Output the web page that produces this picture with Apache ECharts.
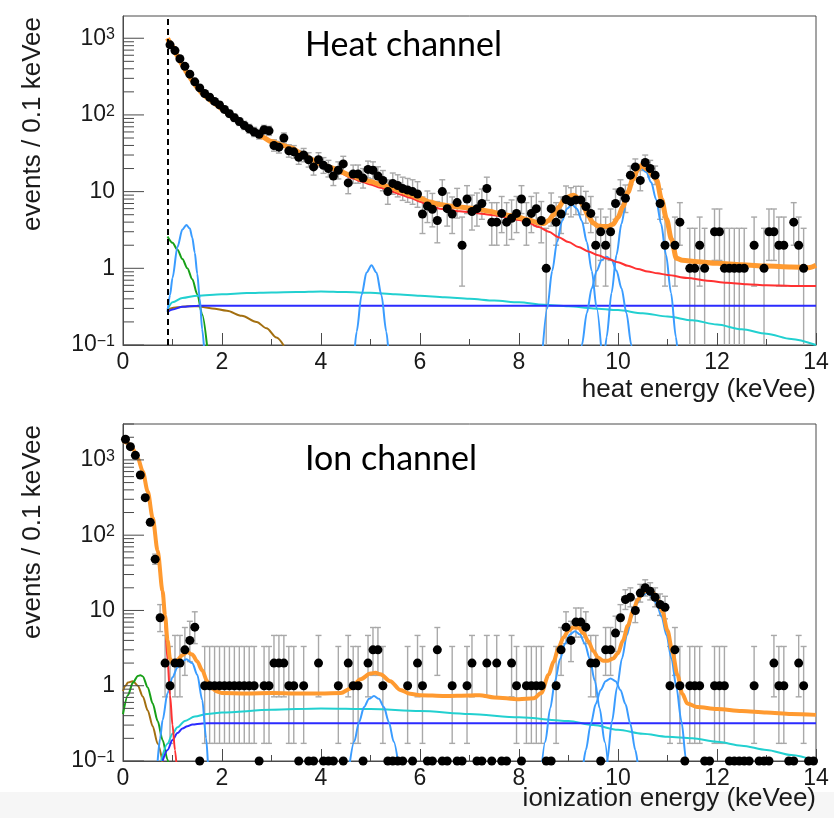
<!DOCTYPE html>
<html>
<head>
<meta charset="utf-8">
<script src="https://cdn.jsdelivr.net/npm/echarts@6/dist/echarts.min.js"></script>
<style>
  html, body { margin: 0; padding: 0; background: #ffffff; }
  #chart { width: 834px; height: 818px; }
</style>
</head>
<body>
<div id="chart"></div>
<script>
// ---------------- binning ----------------
const binWidth = 0.1;          // keVee per bin
const heatFirstBin = 0.95;     // centre of the first heat bin above threshold
const ionFirstBin = 0.05;      // centre of the first ionization bin
const heatThreshold = 0.9;     // analysis threshold on heat energy (keVee)

// ---------------- heat channel ----------------
const heatCounts = [
  820, 690, 540, 430, 340, 270, 225, 190, 170, 150, 135,
  118, 104, 92, 82, 73, 66, 60, 56, 64, 62,
  40, 38, 50, 34, 33, 28, 30, 26, 21, 26,
  22, 20, 16, 19, 23, 13, 17, 17, 15, 19.5,
  19, 16, 14, 10, 12.8, 12, 11, 10.5, 10, 9.3,
  5.1, 6.5, 5.9, 4.2, 10, 6, 5.1, 7.2, 2, 8,
  5.5, 6, 7, 11, 4, 4, 5.2, 4, 4.5, 5.2,
  8, 4, 5.2, 6, 4.2, 1, 6, 4, 5.1, 7.9,
  7.4, 7.8, 7.8, 6.4, 5.2, 2, 3, 2, 3, 7,
  10, 8.2, 16.4, 21, 14, 24, 20, 16.4, 7, 2,
  0, 2, 4, 0, 1, 1, 2, 1, 0, 3,
  3, 1, 1, 1, 1, 1, 0, 2, 0, 1,
  3, 3, 2, 2, 0, 4, 2, 1, 0, 0
];

const heatTotalFit = [
  [0.9, 1000], [0.95, 880], [1.0, 780], [1.1, 590], [1.2, 450], [1.3, 350], [1.4, 280],
  [1.5, 228], [1.6, 192], [1.7, 167], [1.8, 150], [1.9, 134], [2.0, 119], [2.2, 96],
  [2.4, 78], [2.6, 63], [2.8, 52], [3.0, 45], [3.2, 40.5], [3.4, 37], [3.6, 31.5],
  [3.8, 26.5], [4.0, 23], [4.2, 20.5], [4.4, 18.2], [4.6, 16.2], [4.8, 14.8], [5.0, 13.6],
  [5.2, 12.4], [5.4, 11.4], [5.6, 10.3], [5.8, 9.2], [6.0, 8.2], [6.2, 7.3], [6.4, 6.8],
  [6.6, 6.5], [6.8, 6.3], [7.0, 6.1], [7.2, 5.85], [7.4, 5.55], [7.6, 5.2], [7.8, 4.9],
  [8.0, 4.6], [8.2, 4.25], [8.4, 3.9], [8.5, 3.85], [8.6, 4.2], [8.7, 5.0], [8.8, 6.2],
  [8.9, 7.6], [9.0, 8.6], [9.1, 9.0], [9.2, 8.2], [9.3, 6.5], [9.4, 4.8], [9.5, 3.9],
  [9.6, 3.55], [9.7, 3.5], [9.8, 3.5], [9.9, 3.75], [10.0, 4.6], [10.1, 6.4], [10.2, 9.8],
  [10.3, 14.5], [10.4, 19.5], [10.48, 22], [10.6, 19.5], [10.7, 16.5], [10.78, 14.2],
  [10.88, 7.9], [10.98, 4.4], [11.08, 2.4], [11.18, 1.35], [11.3, 1.27], [11.6, 1.22],
  [12.0, 1.16], [12.5, 1.11], [13.0, 1.07], [13.5, 1.04], [13.85, 1.02], [14.0, 1.1]
];
const heatRedComponent = [
  [0.9, 990], [1.0, 770], [1.1, 580], [1.2, 445], [1.3, 345], [1.4, 276], [1.5, 224],
  [1.6, 188], [1.7, 164], [1.8, 147], [1.9, 131], [2.0, 117], [2.2, 94], [2.4, 76],
  [2.6, 62], [2.8, 51], [3.0, 44], [3.2, 39.5], [3.4, 36], [3.6, 30.5], [3.8, 25.5],
  [4.0, 22], [4.2, 19.5], [4.4, 17.3], [4.6, 15.2], [4.8, 13.7], [5.0, 12.4], [5.2, 11.2],
  [5.4, 10.2], [5.6, 9.2], [5.8, 8.3], [6.0, 7.4], [6.2, 6.5], [6.4, 6.0], [6.6, 5.75],
  [6.8, 5.55], [7.0, 5.4], [7.2, 5.2], [7.4, 5.0], [7.6, 4.8], [7.8, 4.52], [8.0, 4.25],
  [8.2, 3.9], [8.4, 3.45], [8.6, 3.0], [8.8, 2.55], [9.0, 2.2], [9.2, 1.9], [9.4, 1.66],
  [9.6, 1.48], [9.8, 1.33], [10.0, 1.2], [10.2, 1.08], [10.4, 0.98], [10.6, 0.91],
  [10.8, 0.86], [11.0, 0.82], [11.4, 0.75], [11.8, 0.69], [12.2, 0.65], [12.6, 0.62],
  [13.0, 0.6], [13.5, 0.59], [14.0, 0.59]
];
const heatCyanComponent = [
  [0.9, 0.29], [1.0, 0.36], [1.2, 0.41], [1.5, 0.44], [2.0, 0.46], [2.5, 0.475], [3.0, 0.485],
  [3.5, 0.49], [4.0, 0.5], [4.5, 0.49], [5.0, 0.48], [5.5, 0.46], [6.0, 0.44], [6.5, 0.42],
  [7.0, 0.4], [7.5, 0.38], [8.0, 0.36], [8.5, 0.335], [9.0, 0.32], [9.5, 0.3], [10.0, 0.285],
  [10.5, 0.26], [11.0, 0.235], [11.5, 0.21], [12.0, 0.185], [12.5, 0.16], [13.0, 0.14],
  [13.5, 0.12], [14.0, 0.1]
];
const heatBlueComponent = [
  [0.9, 0.27], [1.0, 0.29], [1.2, 0.315], [1.5, 0.325], [2.0, 0.326], [14.0, 0.326]
];
const heatGreenComponent = [
  [0.9, 2.6], [1.0, 2.15], [1.1, 1.75], [1.2, 1.32], [1.3, 1.0], [1.4, 0.72],
  [1.5, 0.46], [1.6, 0.25], [1.7, 0.095]
];
const heatBrownComponent = [
  [0.9, 0.29], [1.1, 0.31], [1.3, 0.32], [1.5, 0.32], [1.8, 0.3], [2.1, 0.28],
  [2.4, 0.24], [2.7, 0.2], [2.9, 0.165], [3.1, 0.125], [3.25, 0.098]
];
const heatPeak1 = [
  [0.9, 0.27], [0.95, 0.45], [1.0, 0.75], [1.1, 1.9], [1.2, 3.2], [1.28, 3.67],
  [1.35, 3.3], [1.4, 2.5], [1.45, 1.6], [1.5, 0.85], [1.55, 0.4], [1.6, 0.16], [1.65, 0.07]
];
const heatPeak2 = [
  [4.67, 0.072], [4.72, 0.149], [4.82, 0.45], [4.92, 0.88], [5.02, 1.1],
  [5.12, 0.88], [5.22, 0.45], [5.32, 0.149], [5.37, 0.072]
];
const heatPeak3 = [
  [8.47, 0.075], [8.57, 0.3], [8.67, 0.92], [8.77, 2.21], [8.87, 4.13], [8.97, 6.0], [9.07, 6.8],
  [9.17, 6.0], [9.27, 4.13], [9.37, 2.21], [9.47, 0.92], [9.57, 0.3], [9.67, 0.075]
];
const heatPeak4 = [
  [9.22, 0.057], [9.27, 0.1], [9.37, 0.26], [9.47, 0.55], [9.57, 0.93], [9.67, 1.28], [9.77, 1.42],
  [9.87, 1.28], [9.97, 0.93], [10.07, 0.55], [10.17, 0.26], [10.27, 0.1], [10.32, 0.057]
];
const heatPeak5 = [
  [9.72, 0.06], [9.77, 0.127], [9.87, 0.48], [9.97, 1.5], [10.07, 3.8], [10.17, 7.9], [10.27, 13.2],
  [10.37, 18], [10.47, 20], [10.57, 18], [10.67, 13.2], [10.77, 7.9], [10.87, 3.8], [10.97, 1.5],
  [11.07, 0.48], [11.17, 0.127], [11.22, 0.06]
];

// ---------------- ionization channel ----------------
const ionCounts = [
  1880, 1500, 1150, 630, 315, 148, 48, 8, 2, 1,
  2, 2, 3, 4, 6, 0, 1, 1, 1, 1,
  1, 1, 1, 1, 1, 1, 1, 0, 1, 1,
  2, 2, 2, 1, 1, 0, 1, 0, 0, 2,
  0, 0, 0, 1, 0, 2, 1, 1, 0, 2,
  3, 3, 1, 0, 0, 0, 0, 1, 0, 2,
  1, 0, 0, 3, 0, 0, 1, 0, 0, 1,
  2, 0, 0, 2, 0, 2, 0, 0, 2, 1,
  0, 1, 1, 1, 1, 0, 0, 1, 3, 6,
  4, 7, 7, 6, 2, 2, 0, 3, 3, 5,
  8, 14, 15, 10, 17, 20, 18, 15, 12, 11,
  1, 3, 1, 0, 1, 1, 1, 0, 0, 1,
  1, 1, 0, 0, 0, 0, 0, 1, 0, 0,
  0, 2, 1, 1, 0, 0, 2, 1, 0, 0
];

const ionTotalFit = [
  [0, 1800], [0.1, 1680], [0.2, 1400], [0.3, 1050], [0.4, 700], [0.5, 380], [0.6, 170],
  [0.7, 62], [0.8, 18], [0.85, 8.5], [0.9, 4], [0.95, 2.3], [1.0, 2.0], [1.05, 2.05],
  [1.1, 2.2], [1.2, 2.55], [1.3, 2.8], [1.4, 2.6], [1.5, 2.1], [1.6, 1.6], [1.7, 1.15],
  [1.8, 0.92], [1.9, 0.84], [2.0, 0.8], [2.5, 0.79], [3.0, 0.8], [3.5, 0.79], [4.0, 0.79],
  [4.4, 0.8], [4.6, 0.92], [4.8, 1.22], [5.0, 1.45], [5.1, 1.49], [5.2, 1.42], [5.4, 1.15],
  [5.6, 0.88], [5.8, 0.78], [6.0, 0.75], [6.5, 0.73], [7.0, 0.74], [7.2, 0.75], [7.5, 0.7],
  [8.0, 0.66], [8.3, 0.68], [8.45, 0.8], [8.6, 1.4], [8.7, 2.1], [8.8, 3.2], [8.9, 4.4],
  [9.0, 5.4], [9.1, 6.0], [9.2, 5.9], [9.3, 5.0], [9.4, 3.9], [9.5, 2.9], [9.6, 2.35],
  [9.7, 2.15], [9.8, 2.15], [9.9, 2.3], [10.0, 2.7], [10.1, 4.0], [10.2, 6.3], [10.3, 9.7],
  [10.4, 13.8], [10.5, 17.5], [10.6, 18.8], [10.7, 17.5], [10.8, 14], [10.9, 9.5], [11.0, 5.4],
  [11.1, 2.8], [11.2, 1.4], [11.3, 0.78], [11.4, 0.58], [11.6, 0.52], [12.0, 0.49],
  [12.5, 0.46], [13.0, 0.44], [13.5, 0.42], [14.0, 0.41]
];
const ionRedComponent = [
  [0, 1780], [0.1, 1660], [0.2, 1380], [0.3, 1030], [0.4, 690], [0.5, 370], [0.6, 165],
  [0.7, 58], [0.8, 16], [0.85, 6.5], [0.9, 2.2], [0.95, 0.75], [1.0, 0.3], [1.05, 0.14], [1.1, 0.06]
];
const ionGreenComponent = [
  [0, 0.42], [0.1, 0.75], [0.2, 1.1], [0.3, 1.35], [0.35, 1.38], [0.4, 1.33], [0.5, 0.95],
  [0.6, 0.58], [0.7, 0.34], [0.8, 0.19], [0.9, 0.105], [0.95, 0.07]
];
const ionBrownComponent = [
  [0, 0.85], [0.05, 1.0], [0.1, 1.1], [0.2, 1.15], [0.3, 1.0], [0.4, 0.72], [0.5, 0.47],
  [0.6, 0.29], [0.7, 0.17], [0.8, 0.095]
];
const ionCyanComponent = [
  [0.77, 0.1], [0.9, 0.17], [1.0, 0.23], [1.1, 0.28], [1.25, 0.34], [1.45, 0.39], [1.7, 0.42],
  [2.0, 0.44], [3.0, 0.48], [4.0, 0.5], [5.0, 0.49], [6.0, 0.46], [7.0, 0.42], [8.0, 0.38],
  [9.0, 0.34], [9.5, 0.3], [10.0, 0.26], [10.5, 0.23], [11.0, 0.21], [11.5, 0.2], [12.0, 0.18],
  [12.5, 0.16], [13.0, 0.14], [13.5, 0.12], [14.0, 0.1]
];
const ionBlueComponent = [
  [0.8, 0.1], [0.9, 0.14], [1.0, 0.19], [1.1, 0.235], [1.2, 0.27], [1.3, 0.29], [1.4, 0.305],
  [1.6, 0.315], [1.8, 0.318], [14.0, 0.318]
];
const ionPeak1 = [
  [0.7, 0.1], [0.75, 0.2], [0.8, 0.35], [0.9, 0.8], [1.0, 1.3], [1.1, 1.75], [1.2, 2.1],
  [1.28, 2.25], [1.4, 2.0], [1.5, 1.4], [1.6, 0.65], [1.68, 0.2], [1.72, 0.08]
];
const ionPeak2 = [
  [4.57, 0.083], [4.67, 0.18], [4.77, 0.33], [4.87, 0.52], [4.97, 0.67], [5.07, 0.73],
  [5.17, 0.67], [5.27, 0.52], [5.37, 0.33], [5.47, 0.18], [5.57, 0.083]
];
const ionPeak3 = [
  [8.43, 0.052], [8.53, 0.18], [8.63, 0.5], [8.73, 1.17], [8.83, 2.26], [8.93, 3.63], [9.03, 4.8],
  [9.13, 5.3], [9.23, 4.8], [9.33, 3.63], [9.43, 2.26], [9.53, 1.17], [9.63, 0.5], [9.73, 0.18], [9.83, 0.052]
];
const ionPeak4 = [
  [9.3, 0.09], [9.35, 0.14], [9.45, 0.31], [9.55, 0.57], [9.65, 0.88], [9.75, 1.15], [9.85, 1.25],
  [9.95, 1.15], [10.05, 0.88], [10.15, 0.57], [10.25, 0.31], [10.35, 0.14], [10.4, 0.09]
];
const ionPeak5 = [
  [9.73, 0.053], [9.78, 0.1], [9.88, 0.34], [9.98, 0.95], [10.08, 2.3], [10.18, 4.7], [10.28, 8.3],
  [10.38, 12.3], [10.48, 15.7], [10.58, 17], [10.68, 15.7], [10.78, 12.3], [10.88, 8.3], [10.98, 4.7],
  [11.08, 2.3], [11.18, 0.95], [11.28, 0.34], [11.38, 0.1], [11.43, 0.053]
];

// ---------------- axis ranges ----------------
const xRange = [0, 14];
const heatYRange = [0.1, 1950];
const ionYRange = [0.1, 3000];

// ---------------- colours & fonts ----------------
const COL = {
  total: '#ff9a30', red: '#ff3131', cyan: '#22d0d0', blue: '#2b2bff',
  peak: '#3a9cff', green: '#17a017', brown: '#a36f10', bar: '#a9a9a9', frame: '#4a4a4a'
};
const FONT = '"Liberation Sans", Arial, Helvetica, sans-serif';
const TITLE_FONT = '26px ' + FONT;
const PANEL_FONT = '34px Lato, "Open Sans", sans-serif';

// ---------------- helpers ----------------
function binPoints(counts, firstCentre, yMin) {
  // zero-count bins sit on the bottom edge of a log axis
  return counts.map((n, i) => [+(firstCentre + i * binWidth).toFixed(3), n > 0 ? n : yMin]);
}
function heatErrors(counts, firstCentre) {
  const out = [];
  counts.forEach((n, i) => {
    if (n <= 0) return;
    const x = +(firstCentre + i * binWidth).toFixed(3);
    out.push([x, n - Math.sqrt(n), n + 1 + Math.sqrt(n + 0.75)]);
  });
  return out;
}
function ionErrors(counts, firstCentre) {
  const out = [];
  counts.forEach((n, i) => {
    if (n <= 0) return;
    const x = +(firstCentre + i * binWidth).toFixed(3);
    const lo = n * Math.pow(1 - 1 / (9 * n) - 1 / (3 * Math.sqrt(n)), 3);
    out.push([x, lo, n + 1 + Math.sqrt(n + 0.75)]);
  });
  return out;
}
function logTicks(range) {
  const t = [];
  for (let e = -1; e <= 4; e++) {
    for (let m = 1; m <= 9; m++) {
      const v = m * Math.pow(10, e);
      if (v >= range[0] * 0.999 && v <= range[1] * 1.001) t.push([xRange[0], v, m === 1 ? 1 : 0]);
    }
  }
  return t;
}
function powerLabel(v) {
  const e = Math.round(Math.log10(v));
  const p = Math.pow(10, e);
  if (Math.abs(v - p) > 1e-6 * p) return '';
  if (e === 0) return '{b|1}';
  if (e === 1) return '{b|10}';
  return '{b|10}{s|' + (e < 0 ? '\u2212' + (-e) : e) + '}';
}

function curve(data, color, width, gi, z) {
  return {
    type: 'line', xAxisIndex: gi, yAxisIndex: gi, data: data,
    showSymbol: false, symbol: 'none', smooth: 0.3, smoothMonotone: 'x',
    lineStyle: { color: color, width: width }, z: z, silent: true, clip: true,
    animation: false
  };
}
function errorBars(data, gi, yMin) {
  return {
    type: 'custom', xAxisIndex: gi, yAxisIndex: gi, data: data, z: 1, silent: true, clip: true,
    encode: { x: 0, y: [1, 2] },
    renderItem: function (params, api) {
      const x = api.value(0);
      const loRaw = api.value(1);
      const lo = Math.max(loRaw, yMin);
      const hi = api.value(2);
      const a = api.coord([x, lo]);
      const b = api.coord([x, hi]);
      const st = { stroke: COL.bar, lineWidth: 1.4 };
      const kids = [
        { type: 'line', shape: { x1: a[0], y1: a[1], x2: b[0], y2: b[1] }, style: st },
        { type: 'line', shape: { x1: b[0] - 3, y1: b[1], x2: b[0] + 3, y2: b[1] }, style: st }
      ];
      if (loRaw > yMin) kids.push({ type: 'line', shape: { x1: a[0] - 3, y1: a[1], x2: a[0] + 3, y2: a[1] }, style: st });
      return { type: 'group', children: kids };
    }
  };
}
function yTickSeries(range, gi) {
  return {
    type: 'custom', xAxisIndex: gi, yAxisIndex: gi, data: logTicks(range), z: 6, silent: true,
    clip: false,
    renderItem: function (params, api) {
      const p = api.coord([api.value(0), api.value(1)]);
      const len = api.value(2) ? 21 : 11;
      return { type: 'line', shape: { x1: p[0], y1: p[1], x2: p[0] + len, y2: p[1] },
               style: { stroke: COL.frame, lineWidth: 1 } };
    }
  };
}
function points(data, gi) {
  return {
    type: 'scatter', xAxisIndex: gi, yAxisIndex: gi, data: data, symbol: 'circle',
    symbolSize: 9, itemStyle: { color: '#000', opacity: 1 }, z: 8, silent: true, clip: false
  };
}

function xAxisDef(gi) {
  return {
    gridIndex: gi, type: 'value', min: xRange[0], max: xRange[1], interval: 2,
    axisLine: { show: true, onZero: false, lineStyle: { color: COL.frame, width: 1 } },
    axisTick: { show: true, inside: true, length: 12, lineStyle: { color: COL.frame, width: 1 } },
    minorTick: { show: true, splitNumber: 2, length: 6, lineStyle: { color: COL.frame, width: 1 } },
    axisLabel: { show: true, margin: 6, fontSize: 23, color: '#1a1a1a', fontFamily: FONT },
    splitLine: { show: false }, minorSplitLine: { show: false }
  };
}
function yAxisDef(gi, range) {
  return {
    gridIndex: gi, type: 'log', logBase: 10, min: range[0], max: range[1],
    axisLine: { show: true, lineStyle: { color: COL.frame, width: 1 } },
    axisTick: { show: false },
    splitLine: { show: false },
    axisLabel: {
      show: true, margin: 8, formatter: powerLabel, showMaxLabel: false,
      rich: {
        b: { fontSize: 23, lineHeight: 23, fontFamily: FONT, color: '#1a1a1a', verticalAlign: 'bottom' },
        s: { fontSize: 16, lineHeight: 16, fontFamily: FONT, color: '#1a1a1a', verticalAlign: 'top', padding: [0, 0, 13, 0] }
      }
    }
  };
}

// ---------------- series ----------------
const heatPts = binPoints(heatCounts, heatFirstBin, heatYRange[0]).filter((p, i) => heatCounts[i] > 0);
const ionPts = binPoints(ionCounts, ionFirstBin, ionYRange[0]);

const series = [
  // heat channel
  errorBars(heatErrors(heatCounts, heatFirstBin), 0, heatYRange[0]),
  curve(heatBrownComponent, COL.brown, 2, 0, 2),
  curve(heatGreenComponent, COL.green, 2, 0, 2),
  curve(heatCyanComponent, COL.cyan, 2, 0, 2),
  curve(heatBlueComponent, COL.blue, 2, 0, 2),
  curve(heatPeak1, COL.peak, 2, 0, 2),
  curve(heatPeak2, COL.peak, 2, 0, 2),
  curve(heatPeak3, COL.peak, 2, 0, 2),
  curve(heatPeak4, COL.peak, 2, 0, 2),
  curve(heatPeak5, COL.peak, 2, 0, 2),
  curve(heatRedComponent, COL.red, 2, 0, 3),
  curve(heatTotalFit, COL.total, 5, 0, 4),
  Object.assign(points(heatPts, 0), {
    markLine: {
      silent: true, symbol: 'none', animation: false,
      label: { show: false },
      lineStyle: { type: [6, 4], color: '#000', width: 2 },
      data: [{ xAxis: heatThreshold }]
    }
  }),
  yTickSeries(heatYRange, 0),

  // ionization channel
  errorBars(ionErrors(ionCounts, ionFirstBin), 1, ionYRange[0]),
  curve(ionBrownComponent, COL.brown, 2, 1, 2),
  curve(ionGreenComponent, COL.green, 2, 1, 2),
  curve(ionCyanComponent, COL.cyan, 2, 1, 2),
  curve(ionBlueComponent, COL.blue, 2, 1, 2),
  curve(ionPeak1, COL.peak, 2, 1, 2),
  curve(ionPeak2, COL.peak, 2, 1, 2),
  curve(ionPeak3, COL.peak, 2, 1, 2),
  curve(ionPeak4, COL.peak, 2, 1, 2),
  curve(ionPeak5, COL.peak, 2, 1, 2),
  curve(ionRedComponent, COL.red, 2, 1, 3),
  curve(ionTotalFit, COL.total, 4, 1, 4),
  points(ionPts, 1),
  yTickSeries(ionYRange, 1)
];

const chart = echarts.init(document.getElementById('chart'), null, { renderer: 'canvas' });
chart.setOption({
  animation: false,
  backgroundColor: '#ffffff',
  grid: [
    { left: 123, right: 18, top: 16, height: 329, show: true, borderColor: COL.frame, borderWidth: 1,
      backgroundColor: 'transparent', containLabel: false, outerBoundsMode: 'none' },
    { left: 123, right: 18, top: 424, height: 337, show: true, borderColor: COL.frame, borderWidth: 1,
      backgroundColor: 'transparent', containLabel: false, outerBoundsMode: 'none' }
  ],
  xAxis: [xAxisDef(0), xAxisDef(1)],
  yAxis: [yAxisDef(0, heatYRange), yAxisDef(1, ionYRange)],
  series: series,
  graphic: [
    { type: 'rect', left: 0, top: 792, z: -10, silent: true,
      shape: { width: 834, height: 26 }, style: { fill: '#f6f6f6' } },
    { type: 'text', left: 305, top: 28, silent: true,
      style: { text: 'Heat channel', font: PANEL_FONT, fill: '#000' } },
    { type: 'text', left: 305, top: 442, silent: true,
      style: { text: 'Ion channel', font: PANEL_FONT, fill: '#000' } },
    { type: 'text', right: 18, top: 377, silent: true,
      style: { text: 'heat energy (keVee)', font: TITLE_FONT, fill: '#1a1a1a' } },
    { type: 'text', right: 18, top: 786, silent: true,
      style: { text: 'ionization energy (keVee)', font: TITLE_FONT, fill: '#1a1a1a' } },
    { type: 'text', x: 33, y: 17, rotation: Math.PI / 2, silent: true,
      style: { text: 'events / 0.1 keVee', font: TITLE_FONT, fill: '#1a1a1a', align: 'right', verticalAlign: 'middle' } },
    { type: 'text', x: 33, y: 425, rotation: Math.PI / 2, silent: true,
      style: { text: 'events / 0.1 keVee', font: TITLE_FONT, fill: '#1a1a1a', align: 'right', verticalAlign: 'middle' } }
  ]
});
</script>
</body>
</html>
